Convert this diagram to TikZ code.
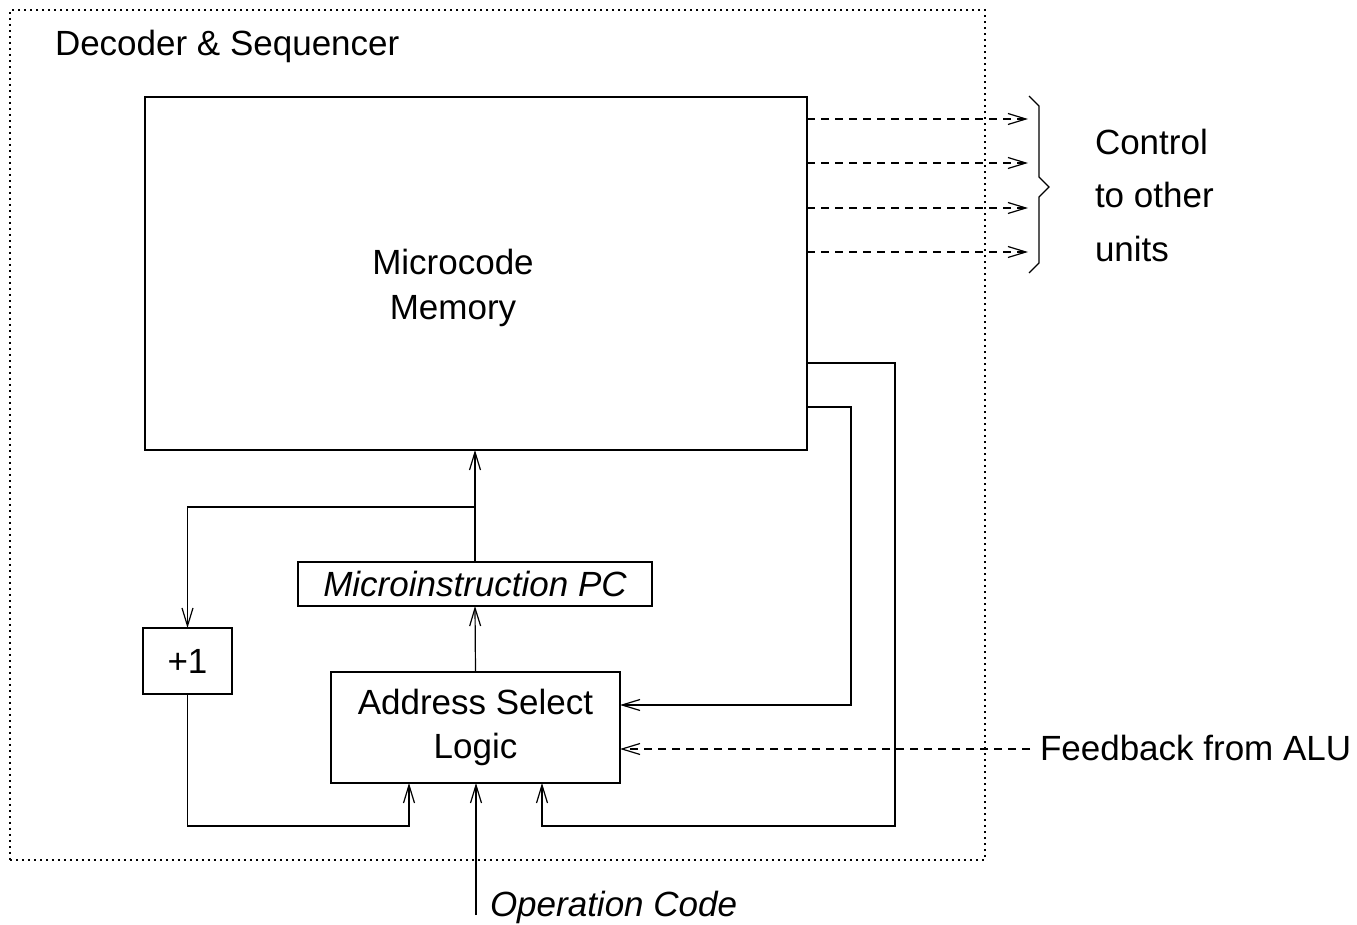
\documentclass[tikz,border=0pt]{standalone}
\usepackage{fontspec}
\setmainfont{Liberation Sans}
\usetikzlibrary{arrows.meta}
\begin{document}
\begin{tikzpicture}[x=0.5pt,y=-0.5pt,
  every node/.style={font=\fontsize{17.5}{22}\selectfont, inner sep=0pt, outer sep=0pt},
  box/.style={draw, line width=0.6pt, align=center},
  conn/.style={line width=0.6pt, -{Straight Barb[length=9pt,width=5.5pt]}},
  dsh/.style={dash pattern=on 4pt off 3pt},
  dots/.style={draw, line width=0.6pt, dash pattern=on 0.8pt off 2.2pt}]
\useasboundingbox (0,0) rectangle (1357,925);
% outer frame
\node[dots, minimum width=487.5pt, minimum height=425pt] (frame) at (497.5,435) {};
\node[anchor=base west] (title) at (55,56) {Decoder \& Sequencer};
% boxes
\node[box, minimum width=331pt, minimum height=176.5pt] (mem) at (476,273.5) {};
\node[align=center] (memtxt) at (453,288) {Microcode\\[0.5pt]Memory};
\node[box, minimum width=177pt, minimum height=22pt, font=\fontsize{17.5}{22}\selectfont\itshape] (pc) at (475,584) {Microinstruction PC};
\node[box, minimum width=44.5pt, minimum height=33pt] (plus) at (187.5,661) {+1};
\node[box, minimum width=144.5pt, minimum height=55.5pt] (asl) at (475.5,727.5) {\raisebox{-1.5pt}{\begin{tabular}{@{}c@{}}Address Select\\[0pt]Logic\end{tabular}}};
% control outputs
\foreach \y/\n in {119/1,163/2,208/3,252/4}{
  \coordinate (c\n) at (1028,\y);
  \draw[conn,dsh] (mem.east |- c\n) -- (c\n);
}
\draw[line width=0.6pt] (1029,96) -- (1039,106) -- (1039,177) -- (1049,187) -- (1039,197) -- (1039,263) -- (1029,273);
\node[anchor=base west] (ctl1) at (1095,155) {Control};
\node[anchor=base west] (ctl2) at (1095,208) {to other};
\node[anchor=base west] (ctl3) at (1095,262) {units};
% internal connections
\draw[conn] (pc.north) -- (pc.north |- mem.south);
\coordinate (br) at (475,507);
\draw[conn] (br) -| (plus.north);
\draw[conn] (asl.north) -- (pc.south);
\coordinate (f1) at (409,826);
\draw[conn] (plus.south) |- (f1) -- (f1 |- asl.south);
\coordinate (m1) at (851,407);
\coordinate (a1) at (620,705);
\draw[conn] (mem.east |- m1) -- (m1) |- (asl.east |- a1);
\coordinate (m2) at (895,363);
\coordinate (f2) at (895,826);
\coordinate (a2) at (542,783);
\draw[conn] (mem.east |- m2) -- (m2) -- (f2) -| (a2 |- asl.south);
% feedback
\coordinate (fb) at (1030,749);
\draw[conn,dsh] (fb) -- (asl.east |- fb);
\node[anchor=base west] (fbtxt) at (1040,761) {Feedback from ALU};
% opcode
\coordinate (op) at (476,915);
\draw[conn] (op) -- (op |- asl.south);
\node[anchor=base west, font=\fontsize{17.5}{22}\selectfont\itshape] (optxt) at (490,916) {Operation Code};
\end{tikzpicture}
\end{document}
